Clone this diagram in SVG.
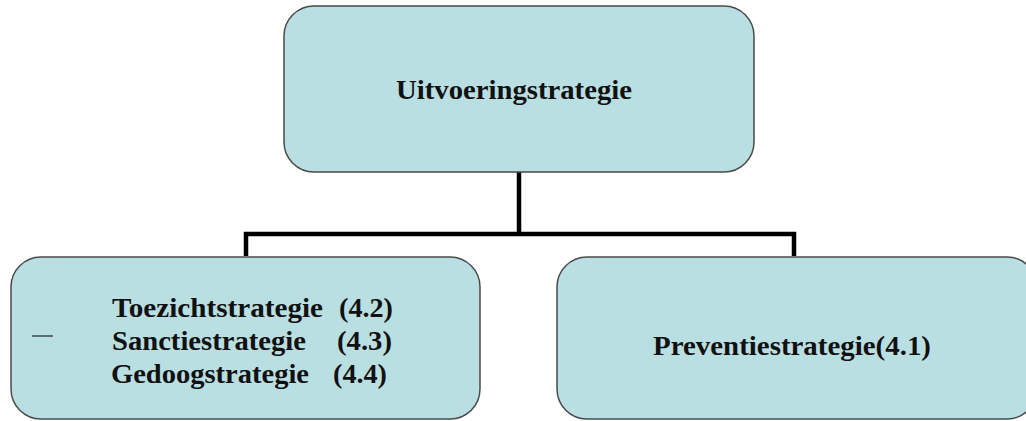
<svg xmlns="http://www.w3.org/2000/svg" width="1026" height="421" viewBox="0 0 1026 421">
<style>
.box{fill:#B9DFE3;stroke:#4a4a4a;stroke-width:1.5}
.t{font-family:"Liberation Serif","Times New Roman",serif;font-weight:bold;font-size:28px;fill:#111}
.c{fill:none;stroke:#000;stroke-width:4.5}
</style>
<rect width="1026" height="421" fill="#fff"/>
<g id="connectors">
<path class="c" d="M519 172 V234"/>
<path class="c" d="M246 256 V234 H794 V256"/>
</g>
<g id="n-top">
<rect class="box" x="284" y="6" width="470" height="166" rx="30"/>
<text class="t" x="396" y="99" textLength="236" lengthAdjust="spacingAndGlyphs">Uitvoeringstrategie</text>
</g>
<g id="n-left">
<rect class="box" x="11" y="257" width="469" height="162" rx="30"/>
<line x1="32" y1="336" x2="53" y2="336" stroke="#222" stroke-width="1.2"/>
<text class="t" x="112" y="317" textLength="211" lengthAdjust="spacingAndGlyphs">Toezichtstrategie</text>
<text class="t" x="339" y="317" textLength="54" lengthAdjust="spacingAndGlyphs">(4.2)</text>
<text class="t" x="112" y="350" textLength="194" lengthAdjust="spacingAndGlyphs">Sanctiestrategie</text>
<text class="t" x="337" y="350" textLength="55" lengthAdjust="spacingAndGlyphs">(4.3)</text>
<text class="t" x="111" y="383" textLength="198" lengthAdjust="spacingAndGlyphs">Gedoogstrategie</text>
<text class="t" x="333" y="383" textLength="54" lengthAdjust="spacingAndGlyphs">(4.4)</text>
</g>
<g id="n-right">
<rect class="box" x="557" y="257" width="480" height="162" rx="30"/>
<text class="t" x="653" y="355" textLength="278" lengthAdjust="spacingAndGlyphs">Preventiestrategie(4.1)</text>
</g>
</svg>
